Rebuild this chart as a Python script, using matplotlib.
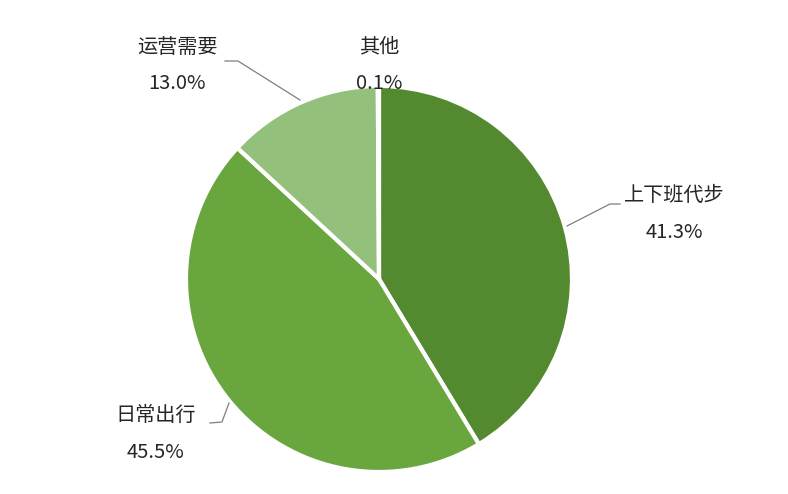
import matplotlib.pyplot as plt

plt.rcParams['font.family'] = ['Noto Sans CJK SC', 'DejaVu Sans']

labels = ['上下班代步', '日常出行', '运营需要', '其他']
shares = [41.3, 45.5, 13.0, 0.1]
colors = ['#548a2f', '#6aa63e', '#93c07a', '#b7d4a4']

# label text positions (pixels, top-left origin) and leader lines
label_pos = [(674, 195), (156, 415), (177, 47), (379, 47)]
leaders = [
    [(567, 226), (610, 204), (620, 204)],
    [(210, 423), (222, 422), (229, 403)],
    [(225, 61), (238, 61), (300, 100)],
    None,
]

W, H = 788, 494
fig = plt.figure(figsize=(W / 100, H / 100), dpi=100)
ax = fig.add_axes([0, 0, 1, 1])

ax.pie(shares, colors=colors, center=(379, H - 279), radius=193,
       startangle=90, counterclock=False,
       wedgeprops=dict(edgecolor='white', linewidth=3), frame=True)
ax.set_xlim(0, W)
ax.set_ylim(0, H)
ax.set_aspect('equal')
ax.axis('off')

for name, val, (x, y), ln in zip(labels, shares, label_pos, leaders):
    ax.text(x, H - y, name, ha='center', va='center', fontsize=14.5, color='#262626')
    ax.text(x, H - y - 37, f'{val:.1f}%', ha='center', va='center', fontsize=14.5, color='#262626')
    if ln:
        ax.plot([p[0] for p in ln], [H - p[1] for p in ln], color='#7f7f7f', lw=0.9)

fig.savefig('out.png', dpi=100, facecolor='white')
